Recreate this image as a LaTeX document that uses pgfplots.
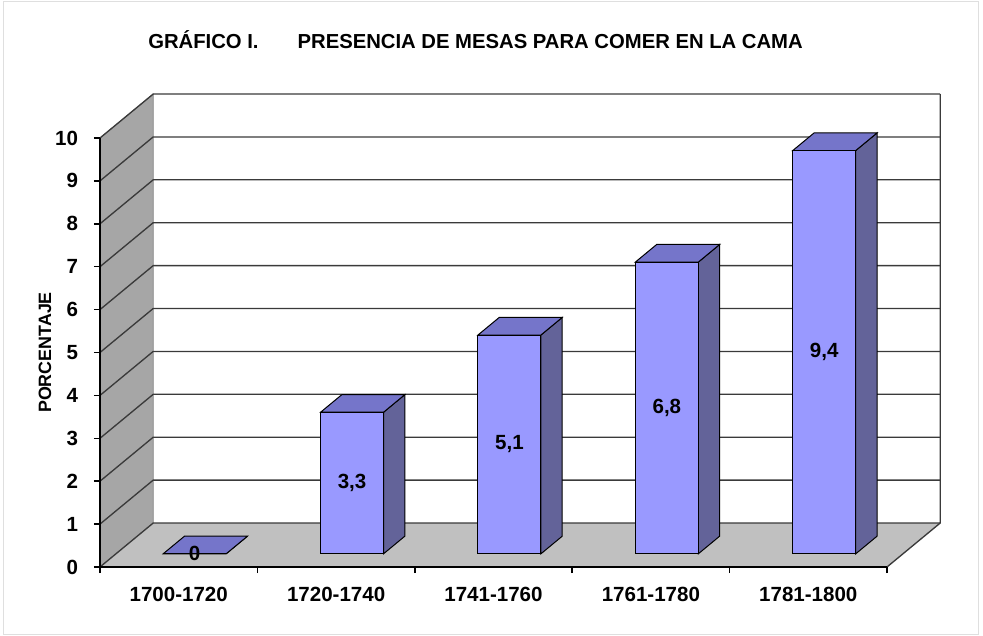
\documentclass[border=0pt]{standalone}
\usepackage{pgfplots}
\pgfplotsset{compat=1.18}
\usepackage{pgfplotstable}
\usepackage{fontspec}
\setmainfont{Liberation Sans}
\definecolor{barfront}{HTML}{9999FF}
\definecolor{bartop}{HTML}{7575CA}
\definecolor{barside}{HTML}{636399}
\definecolor{leftwall}{HTML}{A6A6A6}
\definecolor{floorc}{HTML}{C0C0C0}
\definecolor{gridc}{HTML}{3A3A3A}

\pgfplotstableread{
idx value
0 0
1 3.3
2 5.1
3 6.8
4 9.4
}\datatable

\begin{document}
\begin{tikzpicture}
\useasboundingbox (0,0) rectangle (737.25pt,477pt);
\draw[gray!25, line width=0.75pt] (2.25pt,1pt) rectangle (733.5pt,475.5pt);
\node[anchor=base west, font=\fontsize{15.2}{18}\selectfont\bfseries, inner sep=0pt] at (111pt,440.8pt)
  {GRÁFICO I.\hspace{29.25pt}PRESENCIA DE MESAS PARA COMER EN LA CAMA};
\begin{axis}[
  at={(75pt,51.75pt)}, anchor=south west,
  x=118.05pt, y=32.175pt,
  xmin=0, xmax=5, ymin=0, ymax=10,
  clip=false, axis on top,
  axis x line*=bottom, axis y line*=left,
  axis line style={black, line width=1.1pt},
  xtick={0,...,5},
  xticklabels={1700-1720,1720-1740,1741-1760,1761-1780,1781-1800},
  x tick label as interval,
  ytick={0,...,10},
  tick align=outside, major tick length=4.5pt,
  tick style={black, line width=1.1pt},
  ticklabel style={font=\fontsize{15.4}{18}\selectfont\bfseries},
  xticklabel style={yshift=-6.75pt},
  yticklabel style={xshift=-8.5pt},
  /pgf/number format/assume math mode=true,
  ylabel={PORCENTAJE},
  every axis y label/.style={at={(rel axis cs:0,0.5)}, rotate=90, anchor=center, yshift=41.25pt,
    font=\fontsize{13.4}{16}\selectfont\bfseries},
]
% walls and floor
\addplot[fill=leftwall, draw=gray, line width=0.5pt, forget plot] coordinates {(0,0) (0.338,1.025) (0.338,11.025) (0,10)} -- cycle;
\addplot[fill=floorc, draw=none, forget plot] coordinates {(0,0) (5,0) (5.338,1.025) (0.338,1.025)} -- cycle;
% gridlines
\pgfplotsforeachungrouped \k in {0,...,10} {
  \pgfmathsetmacro\kb{\k+1.025}
  \edef\temp{\noexpand\addplot[gridc, line width=1pt, forget plot] coordinates {(0,\k) (0.338,\kb) (5.338,\kb)};}
  \temp
}
\addplot[gridc, line width=1pt, forget plot] coordinates {(5,0) (5.338,1.025) (5.338,11.025)};
% bars
\pgfplotsforeachungrouped \i in {0,...,4} {
  \pgfplotstablegetelem{\i}{value}\of\datatable
  \let\v=\pgfplotsretval
  \pgfmathsetmacro\xc{\i+0.5+0.1014}
  \pgfmathsetmacro\xl{\xc-0.2}
  \pgfmathsetmacro\xr{\xc+0.2}
  \pgfmathsetmacro\yb{0.3075}
  \pgfmathsetmacro\yt{\v+0.3075}
  \pgfmathsetmacro\ym{\v/2+0.3075}
  \pgfmathsetmacro\xlb{\xl+0.1352}
  \pgfmathsetmacro\xrb{\xr+0.1352}
  \pgfmathsetmacro\ybb{\yb+0.41}
  \pgfmathsetmacro\ytb{\yt+0.41}
  \edef\temp{
    \noexpand\addplot[draw=black, line width=0.75pt, fill=barside, forget plot] coordinates {(\xr,\yb) (\xrb,\ybb) (\xrb,\ytb) (\xr,\yt)} -- cycle;
    \noexpand\addplot[draw=black, line width=0.75pt, fill=bartop, forget plot] coordinates {(\xl,\yt) (\xr,\yt) (\xrb,\ytb) (\xlb,\ytb)} -- cycle;
    \noexpand\addplot[draw=black, line width=0.75pt, fill=barfront, forget plot] coordinates {(\xl,\yb) (\xr,\yb) (\xr,\yt) (\xl,\yt)} -- cycle;
    \noexpand\node[font=\noexpand\fontsize{15.4}{18}\noexpand\selectfont\noexpand\bfseries] at (axis cs:\xc,\ym) {\noexpand\pgfmathprintnumber[use comma,assume math mode=true]{\v}};
  }
  \temp
}
\end{axis}
\end{tikzpicture}
\end{document}
